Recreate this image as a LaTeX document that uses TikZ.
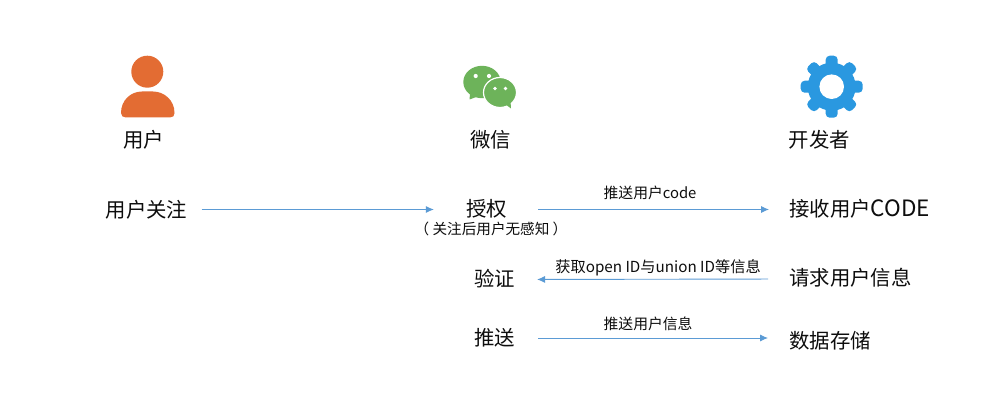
\documentclass[tikz,border=0pt]{standalone}
\usepackage{fontspec}
\setmainfont{Noto Sans CJK SC}
\usetikzlibrary{arrows.meta}
\definecolor{arrowblue}{HTML}{5B9BD5}
\definecolor{personor}{HTML}{E36C33}
\definecolor{wegreen}{HTML}{6DB35A}
\definecolor{gearblue}{HTML}{2A98E0}
\newcommand{\bigcode}{{\fontsize{22.5}{22}\selectfont CODE}}
\tikzset{
  big/.style={font=\fontsize{20.4}{20}\selectfont, inner sep=0pt, text=black!95},
  small/.style={font=\fontsize{14.8}{14}\selectfont, inner sep=0pt, text=black!95},
  flow/.style={draw=arrowblue, line width=0.9pt, -{Latex[length=8pt,width=7pt]}},
}
\begin{document}
\begin{tikzpicture}[x=1pt,y=-1pt]
\useasboundingbox (0,0) rectangle (996,403);
\fill[white] (0,0) rectangle (996,403);
% person icon
\fill[personor] (147.3,71.7) circle (16);
\fill[personor] (121,113) .. controls (121,100) and (131,91.5) .. (142,91.5)
  -- (153,91.5) .. controls (164,91.5) and (174.5,100) .. (174.5,113)
  .. controls (174.5,116) and (173,117.5) .. (170,117.5) -- (126,117.5)
  .. controls (123,117.5) and (121,116) .. (121,113) -- cycle;
% wechat icon
\fill[wegreen] (482,82) ellipse (18.7 and 16.2);
\fill[wegreen] (470,94) -- (469.5,99.5) -- (479,96) -- cycle;
\fill[wegreen, draw=white, line width=1.2pt] (500,92.5) ellipse (16.5 and 15);
\fill[wegreen] (505,104) -- (511,108.5) -- (510.5,101) -- cycle;
\fill[white] (475.7,76) circle (2.1) (489,76) circle (2.1)
  (495,88.5) circle (1.9) (505.5,88.5) circle (1.9);
% gear icon
\foreach \a in {0,45,...,315}{
  \fill[gearblue, rotate around={\a:(831.7,86.7)}, rounded corners=4pt]
    (825.7,86.7) -- (825.7,55.7) -- (837.7,55.7) -- (837.7,86.7) -- cycle;
}
\fill[gearblue] (831.7,86.7) circle (24);
\fill[white] (831.7,86.7) circle (12.3);
% labels
\node[big] (user) at (143.5,140) {用户};
\node[big] (wechat) at (490.5,140) {微信};
\node[big] (dev) at (819.5,140) {开发者};
\node[big] (follow) at (146.5,210) {用户关注};
\node[big] (auth) at (486.5,209) {授权};
\node[small, font=\fontsize{14.6}{14}\selectfont] (authnote) at (491,229) {（ 关注后用户无感知 ）};
\node[big] (verify) at (494.5,279) {验证};
\node[big] (push) at (494.5,338) {推送};
\node[big,anchor=west] (recv) at (789,209) {接收用户\bigcode};
\node[big,anchor=west] (req) at (789,278) {请求用户信息};
\node[big,anchor=west] (store) at (789,341) {数据存储};
% connectors
\draw[flow, shorten <=14pt, shorten >=32pt] (follow.east |- 0,209.5) -- (auth.west |- 0,209.5);
\draw[flow, shorten <=31pt, shorten >=20pt] (auth.east |- 0,209.5) -- (recv.west |- 0,209.5) node[midway, xshift=2pt, above=9pt, small] (l1) {推送用户code};
\draw[flow, shorten <=21pt, shorten >=22pt] (req.west |- 0,279) -- (verify.east |- 0,279.5) node[midway, xshift=6pt, above=3pt, small, font=\fontsize{15.2}{14}\selectfont] (l2) {获取open ID与union ID等信息};
\draw[flow, shorten <=23pt, shorten >=21pt] (push.east |- 0,338) -- (store.west |- 0,338) node[midway, xshift=-4pt, above=7pt, small] (l3) {推送用户信息};
\end{tikzpicture}
\end{document}
